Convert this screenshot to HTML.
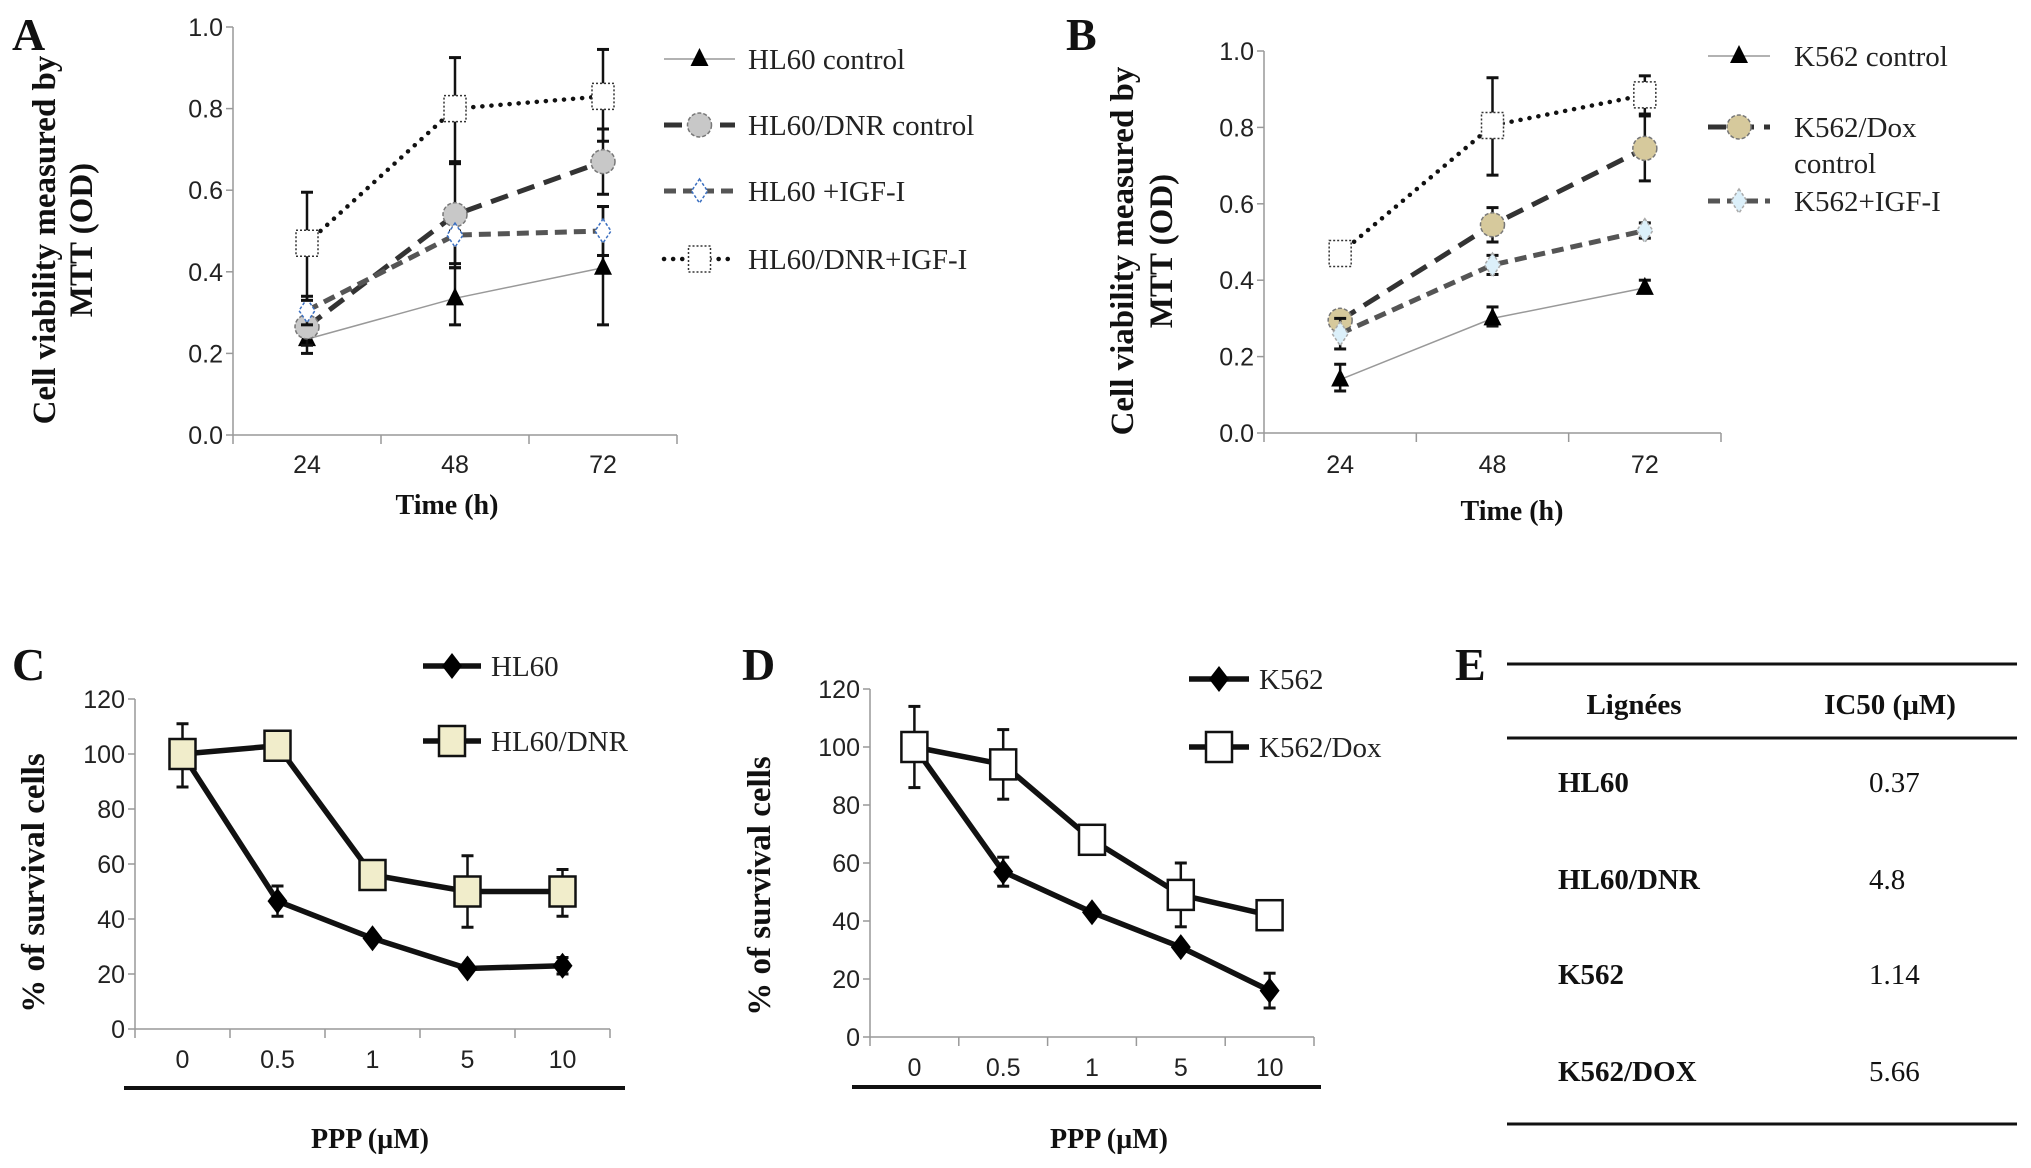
<!DOCTYPE html>
<html><head><meta charset="utf-8">
<style>
html,body{margin:0;padding:0;background:#fff;}
svg{display:block;}
.tick{font-family:"Liberation Sans",sans-serif;font-size:25px;fill:#222;}
.leg{font-family:"Liberation Serif",serif;font-size:29px;fill:#222;}
.ttl{font-family:"Liberation Serif",serif;font-weight:bold;font-size:33px;fill:#111;}
.lab{font-family:"Liberation Serif",serif;font-weight:bold;font-size:46px;fill:#111;}
.tbl{font-family:"Liberation Serif",serif;font-size:29px;fill:#111;}
</style></head>
<body>
<svg id="fig" width="2031" height="1168" viewBox="0 0 2031 1168" xmlns="http://www.w3.org/2000/svg">
<g>
<text class="lab" x="1455" y="680">E</text>
<line x1="1507" y1="664" x2="2017" y2="664" stroke="#111" stroke-width="3"/>
<line x1="1507" y1="738" x2="2017" y2="738" stroke="#111" stroke-width="3"/>
<line x1="1507" y1="1124" x2="2017" y2="1124" stroke="#111" stroke-width="3"/>
<text class="tbl" x="1634" y="714" text-anchor="middle" font-weight="bold">Lignées</text>
<text class="tbl" x="1890" y="714" text-anchor="middle" font-weight="bold">IC50 (µM)</text>
<text class="tbl" x="1558" y="792" font-weight="bold">HL60</text>
<text class="tbl" x="1869" y="792">0.37</text>
<text class="tbl" x="1558" y="889" font-weight="bold">HL60/DNR</text>
<text class="tbl" x="1869" y="889">4.8</text>
<text class="tbl" x="1558" y="984" font-weight="bold">K562</text>
<text class="tbl" x="1869" y="984">1.14</text>
<text class="tbl" x="1558" y="1081" font-weight="bold">K562/DOX</text>
<text class="tbl" x="1869" y="1081">5.66</text>
</g>
</svg>
<script>
// ---- Panel A data ----
const catsA = ["24","48","72"];
const aCtrl = [0.235,0.335,0.41];   const aCtrlLo=[0.20,0.27,0.27]; const aCtrlHi=[0.25,0.41,0.56];
const aDnr = [0.265,0.54,0.67];     const aDnrLo=[0.22,0.42,0.59];  const aDnrHi=[0.30,0.665,0.75];
const aIgf = [0.305,0.49,0.50];     const aIgfLo=[0.27,0.41,0.44];  const aIgfHi=[0.34,0.50,0.56];
const aDnrIgf = [0.47,0.80,0.83];   const aDnrIgfLo=[0.33,0.67,0.72]; const aDnrIgfHi=[0.595,0.925,0.945];
const ticksA = ["0.0","0.2","0.4","0.6","0.8","1.0"];
// ---- Panel B data ----
const catsB = ["24","48","72"];
const bCtrl = [0.14,0.30,0.38];     const bCtrlLo=[0.11,0.28,0.37]; const bCtrlHi=[0.18,0.33,0.40];
const bDox = [0.295,0.545,0.745];   const bDoxLo=[0.27,0.50,0.66];  const bDoxHi=[0.32,0.59,0.835];
const bIgf = [0.26,0.44,0.53];      const bIgfLo=[0.22,0.415,0.51]; const bIgfHi=[0.30,0.465,0.55];
const bDoxIgf = [0.47,0.805,0.885]; const bDoxIgfLo=[0.45,0.675,0.83]; const bDoxIgfHi=[0.49,0.93,0.935];
const ticksB = ["0.0","0.2","0.4","0.6","0.8","1.0"];
// ---- Panel C data ----
const catsC = ["0","0.5","1","5","10"];
const cHl60 = [100,46.5,33,22,23];  const cHl60Lo=[100,41,33,22,20]; const cHl60Hi=[100,52,33,22,26];
const cDnr = [100,103,56,50,50];    const cDnrLo=[88,103,56,37,41];  const cDnrHi=[111,103,56,63,58];
const ticksC = ["0","20","40","60","80","100","120"];
// ---- Panel D data ----
const catsD = ["0","0.5","1","5","10"];
const dK562 = [100,57,43,31,16];    const dK562Lo=[100,52,43,31,10]; const dK562Hi=[100,62,43,31,22];
const dDox = [100,94,68,49,42];     const dDoxLo=[86,82,68,38,42];   const dDoxHi=[114,106,68,60,42];
const ticksD = ["0","20","40","60","80","100","120"];

const NS="http://www.w3.org/2000/svg";
const svg=document.getElementById('fig');
function mk(tag,attrs,parent){const e=document.createElementNS(NS,tag);for(const k in attrs)e.setAttribute(k,attrs[k]);(parent||svg).appendChild(e);return e;}

function marker(g,kind,x,y,fill,stroke){
  let m;
  if(kind==='tri'){m=mk('path',{d:`M${x},${y-11} L${x+9},${y+7} L${x-9},${y+7} Z`,fill:'#000'},g);}
  else if(kind==='circle'){m=mk('circle',{cx:x,cy:y,r:12,fill:fill,stroke:'#777','stroke-width':1.5,'stroke-dasharray':'4,2'},g);}
  else if(kind==='diamond'){m=mk('path',{d:`M${x},${y-12} L${x+8},${y} L${x},${y+12} L${x-8},${y} Z`,fill:fill,stroke:stroke,'stroke-width':1.5,'stroke-dasharray':'3,2'},g);}
  else if(kind==='dsquare'){m=mk('rect',{x:x-11,y:y-13,width:22,height:26,fill:'#fff',stroke:'#333','stroke-width':1.5,'stroke-dasharray':'2,2'},g);}
  else if(kind==='bdiamond'){m=mk('path',{d:`M${x},${y-13} L${x+10},${y} L${x},${y+13} L${x-10},${y} Z`,fill:'#000'},g);}
  else if(kind==='bsquare'){m=mk('rect',{x:x-13,y:y-15,width:26,height:30,fill:fill,stroke:'#111','stroke-width':2.5},g);}
  
  
}

function panel(cfg){
  const g=mk('g',{});
  
  
  const n=cfg.cats.length, step=(cfg.x1-cfg.x0)/n;
  const xs=i=>cfg.x0+step*(i+0.5);
  const ys=v=>cfg.yb-(v-cfg.ymin)/(cfg.ymax-cfg.ymin)*(cfg.yb-cfg.yt);
  const ya=mk('line',{x1:cfg.x0,y1:cfg.yt,x2:cfg.x0,y2:cfg.yb,stroke:'#999','stroke-width':1.5},g);
  
  const xa=mk('line',{x1:cfg.x0,y1:cfg.yb,x2:cfg.x1,y2:cfg.yb,stroke:'#999','stroke-width':1.5},g);
  
  cfg.ticks.forEach(t=>{
    const y=ys(parseFloat(t));
    mk('line',{x1:cfg.x0-7,y1:y,x2:cfg.x0,y2:y,stroke:'#999','stroke-width':1.5},g);
    const tx=mk('text',{x:cfg.x0-10,y:y+9,'text-anchor':'end',class:'tick'},g);tx.textContent=t;
    
  });
  for(let i=0;i<=n;i++){const x=cfg.x0+step*i;mk('line',{x1:x,y1:cfg.yb,x2:x,y2:cfg.yb+9,stroke:'#999','stroke-width':1.5},g);}
  cfg.cats.forEach((c,i)=>{
    const tx=mk('text',{x:xs(i),y:cfg.xly,'text-anchor':'middle',class:'tick'},g);tx.textContent=c;
    
  });
  cfg.series.forEach(s=>{
    const sg=mk('g',{},g);
    
    
    s.v.forEach((v,i)=>{
      if(s.hi[i]-s.lo[i]>0.0001){
        const x=xs(i);
        mk('line',{x1:x,y1:ys(s.lo[i]),x2:x,y2:ys(s.hi[i]),stroke:'#111','stroke-width':2.5},sg);
        mk('line',{x1:x-6,y1:ys(s.lo[i]),x2:x+6,y2:ys(s.lo[i]),stroke:'#111','stroke-width':3},sg);
        mk('line',{x1:x-6,y1:ys(s.hi[i]),x2:x+6,y2:ys(s.hi[i]),stroke:'#111','stroke-width':3},sg);
      }
    });
    const pts=s.v.map((v,i)=>xs(i)+','+ys(v)).join(' ');
    const pl=mk('polyline',Object.assign({points:pts,fill:'none'},s.line),sg);
    
    s.v.forEach((v,i)=>marker(sg,s.mk,xs(i),ys(v),s.fill,s.stroke));
  });
  cfg.series.forEach((s,k)=>{
    if(!s.leg)return;
    const ly=cfg.leg.y[k];
    const lg=mk('g',{},g);
    
    
    mk('line',Object.assign({x1:cfg.leg.x0,y1:ly,x2:cfg.leg.x1,y2:ly},s.line),lg);
    marker(lg,s.mk,(cfg.leg.x0+cfg.leg.x1)/2,ly,s.fill,s.stroke);
    s.leg.forEach((t,j)=>{const tx=mk('text',{x:cfg.leg.tx,y:ly+10+j*36,class:'leg'},lg);tx.textContent=t;});
  });
  const lab=mk('text',{x:cfg.lab[0],y:cfg.lab[1],class:'lab'},g);lab.textContent=cfg.label;
  
  cfg.ytitle.forEach((t,j)=>{
    const x=cfg.ytx[j];
    const tx=mk('text',{x:x,y:cfg.yty,'text-anchor':'middle',class:'ttl',transform:`rotate(-90 ${x} ${cfg.yty})`},g);
    tx.textContent=t;
  });
  const xt=mk('text',{x:cfg.xt[0],y:cfg.xt[1],'text-anchor':'middle',class:'ttl',style:'font-size:28px'},g);
  xt.textContent=cfg.xtitle;
  if(cfg.rule){const r=mk('line',{x1:cfg.rule[0],y1:cfg.rule[2],x2:cfg.rule[1],y2:cfg.rule[2],stroke:'#111','stroke-width':4},g);
    }
}

const Lthin={stroke:'#999','stroke-width':1.5};
const Ldash1={stroke:'#333','stroke-width':5,'stroke-dasharray':'18,10'};
const Ldash2={stroke:'#555','stroke-width':5,'stroke-dasharray':'12,7'};
const Ldot={stroke:'#111','stroke-width':4.5,'stroke-dasharray':'0.1,9','stroke-linecap':'round'};
const Lbold={stroke:'#111','stroke-width':5.5};

panel({name:'chart-a',label:'A',lab:[12,50],cats:catsA,ticks:ticksA,x0:233,x1:677,yt:27,yb:435,ymin:0,ymax:1,xly:473,
  xtitle:'Time (h)',xt:[447,514],ytitle:['Cell viability measured by','MTT (OD)'],ytx:[55,92],yty:240,
  leg:{x0:664,x1:735,tx:748,y:[59,125,191,259]},
  series:[
   {name:'series-hl60-control',v:aCtrl,lo:aCtrlLo,hi:aCtrlHi,line:Lthin,mk:'tri',leg:['HL60 control']},
   {name:'series-hl60-dnr-control',v:aDnr,lo:aDnrLo,hi:aDnrHi,line:Ldash1,mk:'circle',fill:'#c8c8c8',leg:['HL60/DNR control']},
   {name:'series-hl60-igf',v:aIgf,lo:aIgfLo,hi:aIgfHi,line:Ldash2,mk:'diamond',fill:'#fff',stroke:'#3b6fc0',leg:['HL60 +IGF-I']},
   {name:'series-hl60-dnr-igf',v:aDnrIgf,lo:aDnrIgfLo,hi:aDnrIgfHi,line:Ldot,mk:'dsquare',leg:['HL60/DNR+IGF-I']}
  ]});
panel({name:'chart-b',label:'B',lab:[1066,50],cats:catsB,ticks:ticksB,x0:1264,x1:1721,yt:51,yb:433,ymin:0,ymax:1,xly:473,
  xtitle:'Time (h)',xt:[1512,520],ytitle:['Cell viability measured by','MTT (OD)'],ytx:[1133,1172],yty:251,
  leg:{x0:1708,x1:1770,tx:1794,y:[56,127,201,0]},
  series:[
   {name:'series-k562-control',v:bCtrl,lo:bCtrlLo,hi:bCtrlHi,line:Lthin,mk:'tri',leg:['K562 control']},
   {name:'series-k562-dox-control',v:bDox,lo:bDoxLo,hi:bDoxHi,line:Ldash1,mk:'circle',fill:'#d6c99c',leg:['K562/Dox','control']},
   {name:'series-k562-igf',v:bIgf,lo:bIgfLo,hi:bIgfHi,line:Ldash2,mk:'diamond',fill:'#dcf0fa',stroke:'#aaa',leg:['K562+IGF-I']},
   {name:'series-k562-dox-igf',v:bDoxIgf,lo:bDoxIgfLo,hi:bDoxIgfHi,line:Ldot,mk:'dsquare',leg:null}
  ]});
panel({name:'chart-c',label:'C',lab:[12,680],cats:catsC,ticks:ticksC,x0:135,x1:610,yt:699,yb:1029,ymin:0,ymax:120,xly:1068,
  xtitle:'PPP (µM)',xt:[370,1148],ytitle:['% of survival cells'],ytx:[44],yty:883,rule:[124,625,1088],
  leg:{x0:423,x1:481,tx:491,y:[666,741]},
  series:[
   {name:'series-hl60',v:cHl60,lo:cHl60Lo,hi:cHl60Hi,line:Lbold,mk:'bdiamond',leg:['HL60']},
   {name:'series-hl60-dnr',v:cDnr,lo:cDnrLo,hi:cDnrHi,line:Lbold,mk:'bsquare',fill:'#f1edcb',leg:['HL60/DNR']}
  ]});
panel({name:'chart-d',label:'D',lab:[742,680],cats:catsD,ticks:ticksD,x0:870,x1:1314,yt:689,yb:1037,ymin:0,ymax:120,xly:1076,
  xtitle:'PPP (µM)',xt:[1109,1148],ytitle:['% of survival cells'],ytx:[770],yty:886,rule:[852,1321,1087],
  leg:{x0:1189,x1:1249,tx:1259,y:[679,747]},
  series:[
   {name:'series-k562',v:dK562,lo:dK562Lo,hi:dK562Hi,line:Lbold,mk:'bdiamond',leg:['K562']},
   {name:'series-k562-dox',v:dDox,lo:dDoxLo,hi:dDoxHi,line:Lbold,mk:'bsquare',fill:'#fff',leg:['K562/Dox']}
  ]});
</script>
</body></html>
